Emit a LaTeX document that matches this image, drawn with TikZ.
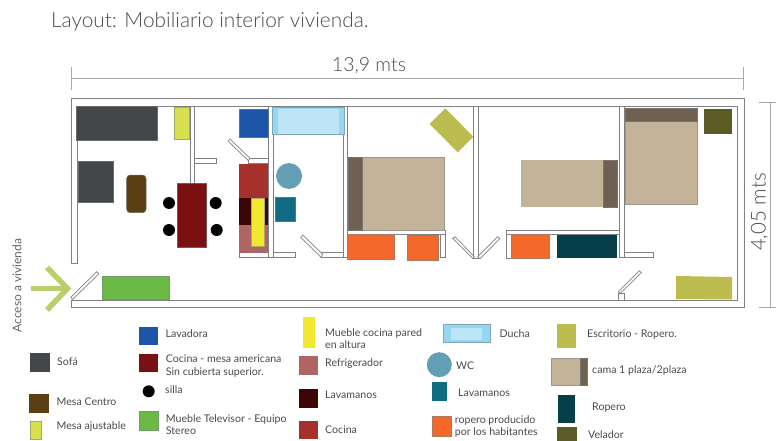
\documentclass[tikz,border=0pt]{standalone}
\usepackage{fontspec}
\setmainfont{Lato}
\newfontfamily\thinfont{Lato Light}
\definecolor{wall}{HTML}{808183}
\definecolor{sofa}{HTML}{43474A}
\definecolor{centro}{HTML}{5A3F14}
\definecolor{ajust}{HTML}{D8E050}
\definecolor{mesa}{HTML}{7A1012}
\definecolor{lavadora}{HTML}{1D56A8}
\definecolor{duchaA}{HTML}{92D8F5}
\definecolor{duchaB}{HTML}{BDE5F7}
\definecolor{cocina}{HTML}{A5302C}
\definecolor{lavam}{HTML}{3C0507}
\definecolor{refri}{HTML}{B06565}
\definecolor{alto}{HTML}{F2E82F}
\definecolor{wc}{HTML}{639FB5}
\definecolor{teal}{HTML}{0E6D83}
\definecolor{cabe}{HTML}{6F6152}
\definecolor{colchon}{HTML}{C3B399}
\definecolor{naranja}{HTML}{F4682A}
\definecolor{escri}{HTML}{BCBB4E}
\definecolor{velador}{HTML}{5C5A25}
\definecolor{ropero}{HTML}{063F4A}
\definecolor{tele}{HTML}{6ABB45}
\definecolor{flecha}{HTML}{B9CF6B}
\definecolor{dim}{HTML}{A9A9A9}
\definecolor{txt}{HTML}{4A4A4A}
\tikzset{
  muro/.style={draw=wall,fill=white,line width=0.7pt},
  mueble/.style={fill=#1,draw=wall!60!#1,line width=0.5pt},
  plano/.style={fill=#1,draw=none},
  cota/.style={draw=dim,line width=1pt},
  leyenda/.style={anchor=west,inner sep=0pt,text=txt,align=left,font=\fontsize{10.6}{12.5}\selectfont},
}
\begin{document}
\begin{tikzpicture}[x=1pt,y=-1pt]
\useasboundingbox (0,0) rectangle (776,441);
% title and dimensions
\node[anchor=west,inner sep=0pt,text=txt,font=\thinfont\fontsize{20.8}{24}\selectfont] (titulo) at (51,22) {Layout: Mobiliario interior vivienda.};
\node[inner sep=0pt,text=txt,font=\thinfont\fontsize{19.5}{22}\selectfont] (ancho) at (369,66) {13,9 mts};
\node[inner sep=0pt,text=txt,rotate=90,font=\thinfont\fontsize{20.5}{22}\selectfont] (alto) at (759.5,212) {4,05 mts};
\node[inner sep=0pt,text=txt!85,rotate=90,font=\fontsize{12}{14}\selectfont] (acceso) at (17,285.5) {Acceso a vivienda};
\coordinate (h1) at (71.3,79); \coordinate (h2) at (743,79);
\draw[cota] (h1) -- (h2);
\draw[cota] (71.3,67) -- (71.3,90);
\draw[cota] (743,67) -- (743,90);
\coordinate (v1) at (770.3,102.7); \coordinate (v2) at (770.3,307);
\draw[cota] (v1) -- (v2);
\draw[cota] (759,102.7) -- (776,102.7);
\draw[cota] (759,307) -- (776,307);
% shell
\draw[muro] (71.5,263) -- (71.5,98.5) -- (744,98.5) -- (744,307) -- (71.5,307) -- (71.5,300) -- (737.5,300) -- (737.5,106) -- (77.5,106) -- (77.5,263) -- cycle;
% interior walls
\draw[muro] (190,106) rectangle (194.5,184);
\draw[muro] (194.5,158.7) rectangle (216.5,163.7);
\draw[muro] (248,158.7) rectangle (268.5,163.7);
\draw[muro] (239,252.7) rectangle (268.5,257.3);
\draw[muro] (273.7,252.7) rectangle (295.7,257.3);
\draw[muro] (268.5,106) rectangle (273.7,257.3);
\draw[muro] (321.7,252.7) rectangle (343.3,257.3);
\draw[muro] (343.3,106) rectangle (347.7,257.3);
\draw[muro] (347.7,230.7) rectangle (445.7,234.7);
\draw[muro] (440.3,234.7) rectangle (445.7,257.3);
\draw[muro] (473.3,106) rectangle (478.7,258);
\draw[muro] (506.3,230.3) rectangle (619.3,234.7);
\draw[muro] (506.3,234.7) rectangle (511,258);
\draw[muro] (624.3,252.3) rectangle (653.3,257.3);
\draw[muro] (619,106) rectangle (624.3,257.3);
\draw[muro] (618.3,293) rectangle (624.3,300);
% doors
\draw[muro] (230,139) -- (250,158.3) -- (248.3,160.7) -- (228,141) -- cycle;
\draw[muro] (302.7,235) -- (322.7,254.3) -- (321,257.3) -- (300.7,237.3) -- cycle;
\draw[muro] (452.7,238.3) -- (455,236.7) -- (474.3,256.7) -- (472.7,258.3) -- cycle;
\draw[muro] (477.7,256.7) -- (497.7,236.7) -- (499.7,238.7) -- (480,258.7) -- cycle;
\draw[muro] (618.3,291.7) -- (639.3,270.7) -- (641.3,272.7) -- (620.3,293.3) -- cycle;
\draw[muro] (70.7,297.3) -- (96.7,271.7) -- (98.7,274) -- (72.7,299.3) -- cycle;
% furniture: living
\draw[mueble=sofa] (76.5,106) rectangle (157,140.7);
\draw[mueble=sofa] (78,161.7) rectangle (113,202.3);
\draw[mueble=centro,rounded corners=3.5pt] (126.7,175) rectangle (146,212.7);
\draw[mueble=ajust] (174.7,107) rectangle (189,139.5);
\draw[mueble=mesa] (177.7,183.7) rectangle (206.3,247.3);
\fill (169,203) circle (6);
\fill (215.7,203) circle (6);
\fill (169,230) circle (6);
\fill (216.7,230) circle (6);
\draw[mueble=tele] (102.7,276.7) rectangle (169,299.5);
% kitchen and bath
\draw[mueble=lavadora] (239.3,109.3) rectangle (268,137.3);
\draw[mueble=duchaA] (272,107) rectangle (344,134.7);
\fill[duchaB] (278,109.5) rectangle (338.5,134);
\fill[cocina] (239.3,163.7) rectangle (268.3,197.7);
\fill[lavam] (239.3,197.7) rectangle (268.3,224.7);
\fill[refri] (239.3,224.7) rectangle (268.3,252.7);
\draw[mueble=alto] (251.3,198) rectangle (264,246.7);
\fill[wc] (289,176) circle (13);
\draw[mueble=teal] (275,197) rectangle (295,221.7);
% bedrooms
\draw[mueble=colchon] (362,157.7) rectangle (444.7,230);
\draw[mueble=cabe] (348,157.7) rectangle (362,230);
\draw[mueble=naranja] (347.7,234.7) rectangle (394.7,259);
\draw[mueble=naranja] (407.3,235) rectangle (438.7,260);
\fill[escri] (445.3,108.3) -- (473.3,136.7) -- (457.7,152.3) -- (429.7,124) -- cycle;
\fill[colchon] (521.3,160) rectangle (603,207);
\draw[mueble=cabe] (603,160) rectangle (617,207.3);
\draw[mueble=colchon] (625.3,108) rectangle (697.7,204);
\draw[mueble=cabe] (625.3,108) rectangle (697.7,121.7);
\fill[velador] (703.7,108.7) rectangle (732.3,134);
\draw[mueble=naranja] (511,234) rectangle (549.7,258);
\fill[ropero] (556.7,234.7) rectangle (617,258.3);
\fill[escri] (676,276) -- (732,277) -- (732,299.5) -- (676,299) -- cycle;
% entry arrow
\draw[flecha,line width=5.5pt] (31,288.5) -- (66,288.5);
\draw[flecha,line width=5.5pt] (47,267.5) -- (67.5,288.5) -- (47,310);
% legend
\fill[sofa] (30,353.3) rectangle (49.7,372);
\node[leyenda] (l1) at (57,362) {Sofá};
\fill[centro] (29,394.3) rectangle (49,412.7);
\node[leyenda] (l2) at (56.5,402) {Mesa Centro};
\draw[mueble=ajust] (30,421) rectangle (41.5,439);
\node[leyenda] (l3) at (56.5,427) {Mesa ajustable};
\fill[lavadora] (139,326.7) rectangle (157.5,345);
\node[leyenda] (l4) at (165.5,334) {Lavadora};
\fill[mesa] (139,353.5) rectangle (158,371.7);
\node[leyenda] (l5) at (165.7,366) {Cocina - mesa americana\\Sin cubierta superior.};
\fill (148.7,391.3) circle (6);
\node[leyenda] (l6) at (165,390) {silla};
\draw[mueble=tele] (139,411.3) rectangle (158.7,430);
\node[leyenda] (l7) at (165.7,424.5) {Mueble Televisor - Equipo\\Stereo};
\fill[alto] (302.5,317) rectangle (314.5,348);
\node[leyenda] (l8) at (325,338.5) {Mueble cocina pared\\en altura};
\fill[refri] (299,356.3) rectangle (318,374.7);
\node[leyenda] (l9) at (325,364) {Refrigerador};
\fill[lavam] (299,389.3) rectangle (318,407.5);
\node[leyenda] (l10) at (325,395) {Lavamanos};
\fill[cocina] (299,421) rectangle (318,439);
\node[leyenda] (l11) at (325,430) {Cocina};
\draw[mueble=duchaA] (443,324.7) rectangle (490.7,342.7);
\fill[duchaB] (451.3,328) rectangle (482,340);
\node[leyenda] (l12) at (499.5,334) {Ducha};
\fill[wc] (439.3,364.7) circle (12.5);
\node[leyenda] (l13) at (456,366) {WC};
\fill[teal] (432,382) rectangle (447.3,400.7);
\node[leyenda] (l14) at (458,392.5) {Lavamanos};
\draw[mueble=naranja] (432,416.3) rectangle (451,436);
\node[leyenda] (l15) at (454.7,426.5) {ropero producido\\por los habitantes};
\fill[escri] (556.7,323.7) rectangle (576,348);
\node[leyenda] (l16) at (587,335) {Escritorio - Ropero.};
\draw[mueble=colchon] (551.7,358.3) rectangle (580,385);
\draw[mueble=cabe] (580,358.3) rectangle (587,385);
\node[leyenda] (l17) at (592,371) {cama 1 plaza/2plaza};
\fill[ropero] (557.7,395) rectangle (574.7,423);
\node[leyenda] (l18) at (592,408) {Ropero};
\fill[velador] (557,427) rectangle (576.7,441);
\node[leyenda] (l19) at (588,435) {Velador};
\end{tikzpicture}
\end{document}
